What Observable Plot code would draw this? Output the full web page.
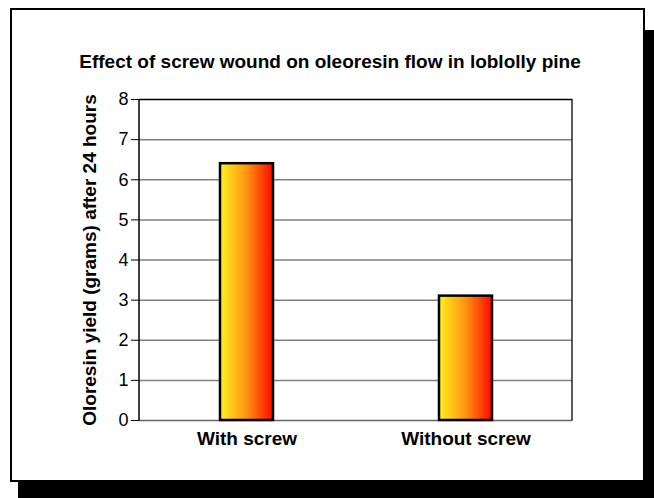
<!DOCTYPE html>
<html>
<head>
<meta charset="utf-8">
<script src="https://cdn.jsdelivr.net/npm/d3@7"></script>
<script src="https://cdn.jsdelivr.net/npm/@observablehq/plot@0.6"></script>
<style>
  body { margin: 0; background: #fff; }
  #wrap { position: relative; width: 654px; height: 498px; overflow: hidden; font-family: "Liberation Sans", Arial, Helvetica, sans-serif; }
  #shadow { position: absolute; left: 18px; top: 30px; width: 636px; height: 468px; background: #000; }
  #box { position: absolute; left: 10px; top: 8px; width: 635px; height: 474px; box-sizing: border-box; background: #fff; border: 2px solid #000; }
  #chart { position: absolute; left: 0; top: 0; }
  #chart svg { background: transparent; }
</style>
</head>
<body>
<div id="wrap">
  <div id="shadow"></div>
  <div id="box"></div>
  <div id="chart"></div>
</div>
<script>
const categories = ["With screw", "Without screw"];
const yields = [6.4, 3.1];
const yTicks = [0, 1, 2, 3, 4, 5, 6, 7, 8];
const title = "Effect of screw wound on oleoresin flow in loblolly pine";
const yLabel = "Oloresin yield (grams) after 24 hours";

const data = categories.map((c, i) => ({category: c, value: yields[i]}));

const plot = Plot.plot({
  width: 654,
  height: 498,
  marginLeft: 139,
  marginRight: 82,
  marginTop: 99,
  marginBottom: 78,
  style: {fontFamily: '"Liberation Sans", Arial, Helvetica, sans-serif', background: "transparent", color: "#000"},
  x: {domain: categories, paddingInner: 0.758, paddingOuter: 0.367, label: null},
  y: {domain: [0, 8], label: null},
  marks: [
    Plot.ruleY(yTicks.filter(d => d > 0 && d < 8), {stroke: "#808080", strokeWidth: 1.5}),
    Plot.ruleY([0], {stroke: "#666", strokeWidth: 1.5}),
    Plot.ruleY([8], {stroke: "#000", strokeWidth: 1.5}),
    Plot.barY(data, {x: "category", y: "value", fill: "url(#barGrad)", stroke: "#000", strokeWidth: 2.5}),
    Plot.axisY({ticks: yTicks, tickSize: 8, tickPadding: 3, fontSize: 18, label: null, tickFormat: d => String(d)}),
    Plot.axisX({tickSize: 0, tickPadding: 11, fontSize: 19, fontWeight: "bold", label: null}),
    Plot.text([title], {frameAnchor: "top", dx: -26, dy: -45, fontSize: 19, fontWeight: "bold", text: d => d}),
    Plot.text([yLabel], {frameAnchor: "left", textAnchor: "middle", dx: -50, rotate: -90, fontSize: 19, fontWeight: "bold", text: d => d})
  ]
});

// gradient definition for the bars
const svg = d3.select(plot);
const defs = svg.insert("defs", ":first-child");
const grad = defs.append("linearGradient").attr("id", "barGrad").attr("x1", "0%").attr("x2", "100%").attr("y1", "0%").attr("y2", "0%");
grad.append("stop").attr("offset", "0%").attr("stop-color", "#fff020");
grad.append("stop").attr("offset", "50%").attr("stop-color", "#ff9410");
grad.append("stop").attr("offset", "100%").attr("stop-color", "#ff0800");

// left axis line and right frame line
const x0 = 139, x1 = 572, yTop = 99, yBot = 420.5;
svg.append("line").attr("x1", x0).attr("x2", x0).attr("y1", yTop).attr("y2", yBot).attr("stroke", "#000").attr("stroke-width", 1.5);
svg.append("line").attr("x1", x1).attr("x2", x1).attr("y1", yTop).attr("y2", yBot).attr("stroke", "#222").attr("stroke-width", 1.5);

document.getElementById("chart").appendChild(plot);
</script>
</body>
</html>
